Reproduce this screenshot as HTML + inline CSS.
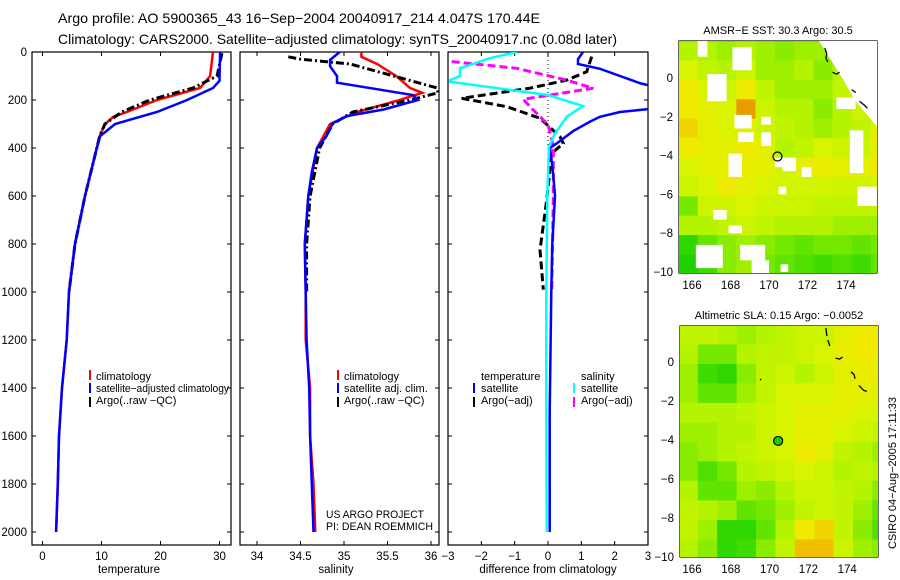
<!DOCTYPE html>
<html><head><meta charset="utf-8"><style>
html,body{margin:0;padding:0;background:#fff}
svg{display:block;font-family:"Liberation Sans",sans-serif}
</style></head><body>
<svg id="fig" width="900" height="580" viewBox="0 0 900 580" xmlns="http://www.w3.org/2000/svg">
<defs>
<clipPath id="c1"><rect x="32" y="52" width="199" height="493"/></clipPath>
<clipPath id="c2"><rect x="240" y="52" width="199" height="493"/></clipPath>
<clipPath id="c3"><rect x="448" y="52" width="200" height="493"/></clipPath>
<clipPath id="cm1"><rect x="679" y="41" width="198" height="232"/></clipPath>
<clipPath id="cm2"><rect x="680" y="326" width="198" height="231"/></clipPath>
</defs>
<text x="58" y="23" font-size="14" textLength="482" lengthAdjust="spacingAndGlyphs">Argo profile: AO 5900365_43 16−Sep−2004 20040917_214 4.047S 170.44E</text>
<text x="58" y="44" font-size="14" textLength="559" lengthAdjust="spacingAndGlyphs">Climatology: CARS2000. Satellite−adjusted climatology: synTS_20040917.nc (0.08d later)</text>
<g id="axes"></g>
<g id="marks"></g>
<g font-size="11">
<rect x="89" y="370" width="2" height="10" fill="#f00"/>
<text x="96" y="380">climatology</text>
<rect x="89" y="383" width="2" height="10" fill="#00f"/>
<text x="96" y="392" textLength="133" lengthAdjust="spacingAndGlyphs">satellite−adjusted climatology</text>
<rect x="89" y="397" width="2" height="10" fill="#000"/>
<text x="96" y="404">Argo(..raw −QC)</text>
</g>
<g font-size="11">
<rect x="337" y="370" width="2" height="10" fill="#f00"/>
<text x="344" y="380">climatology</text>
<rect x="337" y="383" width="2" height="10" fill="#00f"/>
<text x="344" y="392">satellite adj. clim.</text>
<rect x="337" y="397" width="2" height="10" fill="#000"/>
<text x="344" y="404">Argo(..raw −QC)</text>
<text x="326" y="518" textLength="98" lengthAdjust="spacingAndGlyphs">US ARGO PROJECT</text>
<text x="326" y="530" textLength="107" lengthAdjust="spacingAndGlyphs">PI: DEAN ROEMMICH</text>
</g>
<g font-size="11">
<text x="481" y="380">temperature</text>
<rect x="473" y="383" width="2" height="10" fill="#00f"/>
<text x="481" y="392">satellite</text>
<rect x="473" y="397" width="2" height="10" fill="#000"/>
<text x="481" y="404">Argo(−adj)</text>
<text x="581" y="380">salinity</text>
<rect x="573" y="383" width="2" height="10" fill="#0ff"/>
<text x="581" y="392">satellite</text>
<rect x="573" y="397" width="2" height="10" fill="#f0f"/>
<text x="581" y="404">Argo(−adj)</text>
</g>
<text x="129" y="573" font-size="11.5" text-anchor="middle">temperature</text>
<text x="336" y="573" font-size="11.5" text-anchor="middle">salinity</text>
<text x="548" y="573" font-size="11.5" text-anchor="middle">difference from climatology</text>
<text x="778" y="34" font-size="11" text-anchor="middle">AMSR−E SST: 30.3 Argo: 30.5</text>
<text x="779" y="319" font-size="11" text-anchor="middle">Altimetric SLA: 0.15 Argo: −0.0052</text>
<text transform="translate(896,473) rotate(-90)" font-size="11" text-anchor="middle">CSIRO 04−Aug−2005 17:11:33</text>
</svg>
<script>
// ---- profile data ----
const tClimDepth=[0,100,150,200,250,270,300,350,400,600,800,1000,1200,1400,1600,1800,2000];
const tClim=[28.9,28.4,26.7,19.4,14.3,12,10.6,9.7,9.2,7.2,5.5,4.5,4.1,3.3,2.8,2.6,2.3];
const tSatDepth=[0,120,150,200,250,300,350,400,600,800,1000,1200,1400,1600,1800,2000];
const tSat=[30.1,30.0,28.9,24.5,19.4,12.3,9.8,9.2,7.2,5.5,4.5,4.1,3.3,2.8,2.6,2.3];
const tArgoDepth=[5,100,150,200,250,300,350,400,600,800,1000];
const tArgo=[30.4,29.6,25.5,18.2,13.4,10.6,9.7,9.2,7.2,5.5,4.5];
const sClimDepth=[0,20,50,100,150,170,200,250,300,400,600,800,1000,1200,1400,1600,1800,2000];
const sClim=[35.2,35.2,35.38,35.6,35.76,35.9,35.64,35.15,34.84,34.69,34.59,34.55,34.56,34.56,34.61,34.61,34.65,34.67];
const sSatDepth=[0,33,60,100,128,179,200,240,267,297,350,400,500,600,800,1000,1200,1400,1600,1800,2000];
const sSat=[34.95,34.84,34.84,34.92,34.92,35.79,35.85,35.45,35.03,34.87,34.8,34.69,34.63,34.59,34.55,34.56,34.57,34.6,34.61,34.63,34.65];
const sArgoDepth=[20,30,50,100,150,170,200,250,300,400,600,800,1000];
const sArgo=[34.36,34.5,35.07,35.57,36.07,36.08,35.76,35.1,34.87,34.72,34.61,34.57,34.57];
const dTSatDepth=[0,30,50,70,100,130,145,235,250,270,290,330,380,400,500,600,800,1000,1500,2000];
const dTSat=[1.05,0.9,0.9,1.56,2.16,2.76,3.2,3.2,2.16,1.56,1.26,0.75,0.27,0.06,0.15,0.21,0.13,0.1,0.05,0.05];
const dSSatDepth=[0,26,68,100,117,124,179,225,269,339,394,600,1000,1500,2000];
const dSSat=[-0.93,-1.74,-2.64,-2.64,-2.94,-2.94,0,1.05,0.57,0.21,0.03,-0.02,-0.05,-0.05,-0.04];
const dTArgoDepth=[19,82,117,151,193,228,276,353,381,422,617,825,990];
const dTArgo=[1.31,1.16,0.56,-0.54,-2.59,-1.24,-0.24,0.36,0.46,0.11,-0.04,-0.24,-0.14];
const dSArgoDepth=[40,68,117,151,197,228,269,304,394,617,992];
const dSArgo=[-2.89,-0.94,0.56,1.36,-0.74,-0.54,-0.24,0.01,0.16,0.16,0.11];
const depthTicks=[0,200,400,600,800,1000,1200,1400,1600,1800,2000];
const tempTicks=[0,10,20,30];
const salTicks=[34,34.5,35,35.5,36];
const salTickLabels=['34','34.5','35','35.5','36'];
const diffTicks=[-3,-2,-1,0,1,2,3];
// ---- map data (rows north->south, cols west->east, 1 degree cells) ----
const sstRow0=[.5,.5,.45,.5,.45,.4,.45,.45,.4,.5,.55];
const sstRow1=[.65,.55,.5,.6,.45,.45,.5,.4,.5,.55,.6];
const sstRow2=[.75,.65,.6,.75,.55,.45,.45,.45,.55,.6,.6];
const sstRow3=[.75,.7,.65,.92,.6,.5,.5,.4,.5,.6,.65];
const sstRow4=[.8,.7,.65,.7,.6,.55,.5,.45,.5,.55,.7];
const sstRow5=[.75,.7,.7,.75,.7,.5,.55,.65,.6,.6,.72];
const sstRow6=[.65,.7,.72,.72,.7,.62,.72,.72,.7,.7,.75];
const sstRow7=[.6,.65,.75,.7,.65,.62,.62,.62,.6,.6,.65];
const sstRow8=[.35,.6,.6,.65,.6,.6,.6,.55,.55,.55,.55];
const sstRow9=[.5,.5,.55,.6,.55,.5,.5,.5,.45,.45,.45];
const sstRow10=[.15,.3,.4,.45,.4,.35,.3,.35,.35,.3,.35];
const sstRow11=[.1,.2,.4,.45,.35,.3,.25,.2,.25,.2,.3];
const sstGrid=[sstRow0,sstRow1,sstRow2,sstRow3,sstRow4,sstRow5,sstRow6,sstRow7,sstRow8,sstRow9,sstRow10,sstRow11];
const slaRow0=[.55,.55,.5,.45,.5,.55,.6,.6,.7,.75,.75];
const slaRow1=[.5,.35,.35,.5,.55,.55,.6,.65,.72,.75,.75];
const slaRow2=[.45,.2,.15,.4,.55,.6,.5,.6,.7,.72,.72];
const slaRow3=[.45,.3,.3,.45,.55,.65,.65,.65,.7,.7,.7];
const slaRow4=[.5,.5,.5,.55,.6,.65,.7,.7,.7,.65,.65];
const slaRow5=[.45,.45,.5,.5,.6,.65,.7,.7,.65,.6,.55];
const slaRow6=[.4,.45,.5,.55,.6,.65,.75,.7,.55,.5,.45];
const slaRow7=[.4,.25,.35,.5,.55,.6,.65,.6,.5,.55,.5];
const slaRow8=[.5,.3,.3,.45,.4,.5,.6,.6,.55,.5,.4];
const slaRow9=[.55,.5,.45,.3,.35,.45,.55,.6,.55,.45,.3];
const slaRow10=[.55,.45,.15,.15,.3,.5,.75,.8,.55,.4,.25];
const slaRow11=[.5,.4,.15,.2,.4,.55,.85,.85,.6,.45,.4];
const slaGrid=[slaRow0,slaRow1,slaRow2,slaRow3,slaRow4,slaRow5,slaRow6,slaRow7,slaRow8,slaRow9,slaRow10,slaRow11];
// missing-data gaps in SST map: [lonW, latN, lonE, latS]
const sstGapW=[166.3,168.1,166.8,168.2,169.6,168.4,169.6,167.9,170.3,170.7,171.7,170.5,174.2,174.6,167.1,167.9,166.2,168.5,169.1,170.6,173.5];
const sstGapN=[1.9,1.6,0.2,-1.9,-2.0,-2.8,-2.8,-3.9,-4.1,-4.1,-4.6,-5.6,-2.7,-5.6,-6.8,-7.6,-8.6,-8.6,-9.4,-9.6,-1.0];
const sstGapE=[166.8,169.1,167.8,169.1,170.1,169.2,170.1,168.6,170.8,171.4,172.2,170.9,174.9,175.6,167.8,168.6,167.6,169.8,170.0,171.0,174.5];
const sstGapS=[1.1,0.4,-1.2,-2.6,-2.4,-3.3,-3.5,-5.1,-4.6,-4.8,-5.1,-6.0,-4.9,-6.6,-7.3,-8.0,-9.8,-9.4,-10.1,-10.0,-1.6];
const argoLon=[170.44];
const argoLat=[-4.047];

const NS='http://www.w3.org/2000/svg';
const axesG=document.getElementById('axes');
const marksG=document.getElementById('marks');
function mk(tag,attrs,parent){const e=document.createElementNS(NS,tag);for(const k in attrs)e.setAttribute(k,attrs[k]);(parent||marksG).appendChild(e);return e;}

const yD=d=>52+d*0.24;
const xT=v=>42.5+v*5.9;
const xS=v=>257+(v-34)*87;
const xDf=v=>548+v*33.33;

const panels=[[32,231,'temperature-panel'],[240,439,'salinity-panel'],[448,648,'difference-panel']];
panels.forEach(function(p){
  const r=mk('rect',{x:p[0],y:52,width:p[1]-p[0],height:493,fill:'none',stroke:'#000','stroke-width':1.2},axesG);
  
  
});

panels.forEach(function(p,i){
  depthTicks.forEach(function(d){
    const y=yD(d);
    const t=mk('path',{d:`M${p[0]},${y}h4M${p[1]},${y}h-4`,stroke:'#000','stroke-width':1},axesG);
    
    
    if(i===0){
      const l=mk('text',{x:27,y:y+4,'font-size':11.5,'text-anchor':'end'},axesG);
      l.textContent=d;
      
      
    }
  });
});
function xTicks(vals,labels,fx){
  vals.forEach(function(v,i){
    const x=fx(v);
    const t=mk('path',{d:`M${x},545v-4M${x},52v4`,stroke:'#000','stroke-width':1},axesG);
    
    
    const l=mk('text',{x:x,y:560,'font-size':11.5,'text-anchor':'middle'},axesG);
    l.textContent=labels[i];
    
    
  });
}
xTicks(tempTicks,tempTicks.map(String),xT);
xTicks(salTicks,salTickLabels,xS);
xTicks(diffTicks,diffTicks.map(v=>v<0?'−'+(-v):String(v)),xDf);

const zl=mk('line',{x1:xDf(0),y1:52,x2:xDf(0),y2:yD(420),stroke:'#000','stroke-width':1,'stroke-dasharray':'1,3'});



function profile(depths,vals,fx,color,w,dash,clip){
  const pts=depths.map((d,i)=>fx(vals[i]).toFixed(1)+','+yD(d).toFixed(1)).join(' ');
  const a={points:pts,fill:'none',stroke:color,'stroke-width':w,'clip-path':'url(#'+clip+')','stroke-linejoin':'miter'};
  if(dash)a['stroke-dasharray']=dash;
  return mk('polyline',a);
}
let e;
e=profile(tClimDepth,tClim,xT,'#f00',2.5,null,'c1');


e=profile(tArgoDepth,tArgo,xT,'#000',3,'8,3,2,3','c1');


e=profile(tSatDepth,tSat,xT,'#00f',2.5,null,'c1');


e=profile(sClimDepth,sClim,xS,'#f00',2.5,null,'c2');


e=profile(sArgoDepth,sArgo,xS,'#000',3,'8,3,2,3','c2');


e=profile(sSatDepth,sSat,xS,'#00f',2.5,null,'c2');


e=profile(dTArgoDepth,dTArgo,xDf,'#000',3,'8,4','c3');


e=profile(dSArgoDepth,dSArgo,xDf,'#f0f',3,'8,4','c3');


e=profile(dTSatDepth,dTSat,xDf,'#00f',2.5,null,'c3');


e=profile(dSSatDepth,dSSat,xDf,'#0ff',2.5,null,'c3');



// ---- maps ----
const stops=[[0,[0,200,0]],[0.3,[96,228,0]],[0.5,[180,244,0]],[0.65,[216,244,0]],[0.75,[240,234,0]],[0.85,[240,192,0]],[1,[224,112,0]]];
function col(v){
  for(let i=1;i<stops.length;i++){
    if(v<=stops[i][0]){const a=stops[i-1],b=stops[i];const t=(v-a[0])/(b[0]-a[0]);
      return 'rgb('+a[1].map((c,k)=>Math.round(c+(b[1][k]-c)*t)).join(',')+')';}
  }
  return 'rgb(224,112,0)';
}
function drawMap(grid,lonX,latY,clip,name){
  const g=mk('g',{'clip-path':'url(#'+clip+')'});
  
  
  const lon0=165.3,lat0=1.9;
  grid.forEach(function(row,r){
    row.forEach(function(v,c){
      const x1=lonX(lon0+c),x2=lonX(lon0+c+1),y1=latY(lat0-r),y2=latY(lat0-r-1);
      const cell=mk('rect',{x:x1.toFixed(1),y:y1.toFixed(1),width:(x2-x1+0.6).toFixed(1),height:(y2-y1+0.6).toFixed(1),fill:col(v)},g);
      
      
    });
  });
  return g;
}
const lonX1=l=>692+(l-166)*19.25, latY1=l=>78-l*19.4;
const lonX2=l=>692+(l-166)*19.4, latY2=l=>362-l*19.5;
drawMap(sstGrid,lonX1,latY1,'cm1','sst-map');
const gg=mk('g',{'clip-path':'url(#cm1)'});


sstGapW.forEach(function(w,i){
  const r=mk('rect',{x:lonX1(w),y:latY1(sstGapN[i]),width:lonX1(sstGapE[i])-lonX1(w),height:latY1(sstGapS[i])-latY1(sstGapN[i]),fill:'#fff'},gg);
  
  
});
const ne=mk('polygon',{points:`${lonX1(172.6)},41 877,41 877,${latY1(-2.5)} ${lonX1(174.5)},${latY1(-1.2)} ${lonX1(173.8)},${latY1(0)}`,fill:'#fff'},gg);


drawMap(slaGrid,lonX2,latY2,'cm2','sla-map');

function mapAxes(x0,y0,w,h,lonX,latY,name){
  const f=mk('rect',{x:x0,y:y0,width:w,height:h,fill:'none',stroke:'#000','stroke-width':1.2},axesG);
  
  
  [166,168,170,172,174].forEach(function(l){
    const x=lonX(l);
    const t=mk('path',{d:`M${x},${y0}v4M${x},${y0+h}v-4`,stroke:'#000'},axesG);
    
    
    const tl=mk('text',{x:x,y:y0+h+16,'font-size':11.5,'text-anchor':'middle'},axesG);
    tl.textContent=l;
    
    
  });
  [0,-2,-4,-6,-8,-10].forEach(function(l){
    const y=latY(l);
    const t=mk('path',{d:`M${x0},${y}h4M${x0+w},${y}h-4`,stroke:'#000'},axesG);
    
    
    const tl=mk('text',{x:x0-6,y:y+4,'font-size':11.5,'text-anchor':'end'},axesG);
    tl.textContent=l<0?'−'+(-l):String(l);
    
    
  });
}
mapAxes(679,41,198,232,lonX1,latY1,'sst-map');
mapAxes(680,326,198,231,lonX2,latY2,'sla-map');

const c1=mk('path',{d:`M${lonX1(172.9)},48 l2,6 -1,4 2,4 M${lonX1(173.3)},${latY1(0.3)} l4,2 3,-2 M${lonX1(174.3)},${latY1(-0.6)} l4,3 M${lonX1(174.7)},${latY1(-1.2)} l5,4 3,3`,stroke:'#000',fill:'none','stroke-width':1.3});


const c2=mk('path',{d:`M${lonX2(172.9)},328 l1,8 M${lonX2(173)},340 l2,6 M${lonX2(173.4)},${latY2(0.2)} l4,1 3,-2 M${lonX2(174.2)},${latY2(-0.5)} l3,3 1,4 M${lonX2(174.6)},${latY2(-1.2)} l5,5 3,1 M${lonX2(169.5)},${latY2(-0.9)} h1.5`,stroke:'#000',fill:'none','stroke-width':1.3});



const m1=mk('circle',{cx:lonX1(argoLon[0]),cy:latY1(argoLat[0]),r:4.5,fill:'none',stroke:'#000','stroke-width':1.2});


const m2=mk('circle',{cx:lonX2(argoLon[0]),cy:latY2(argoLat[0]),r:4.5,fill:'#22cc00',stroke:'#000','stroke-width':1.2});


</script>
</body></html>
